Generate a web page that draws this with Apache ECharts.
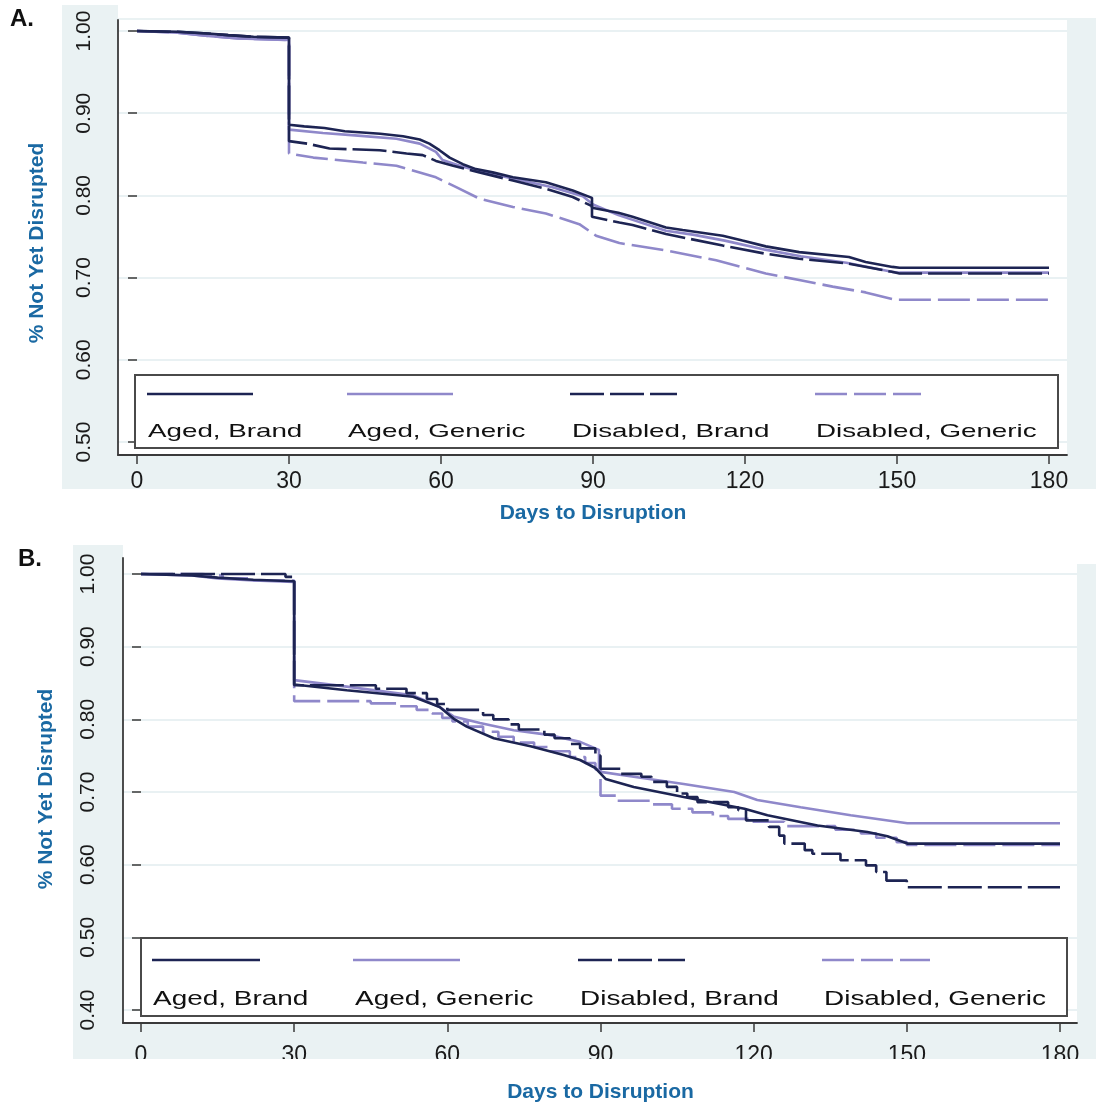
<!DOCTYPE html>
<html><head><meta charset="utf-8">
<script src="https://cdn.jsdelivr.net/npm/echarts@6/dist/echarts.min.js"></script>
<style>html,body{margin:0;padding:0;background:#fff}#c{width:1096px;height:1107px}</style>
</head><body><div id="c"></div>
<script>
// ---------- data ----------
const seriesNames = ['Aged, Brand', 'Aged, Generic', 'Disabled, Brand', 'Disabled, Generic'];
const xTickValues = [0, 30, 60, 90, 120, 150, 180];
const xAxisTitle = 'Days to Disruption';
const yAxisTitle = '% Not Yet Disrupted';
const panelTags = ['A.', 'B.'];

// Panel A  [day, survival]
const A_agedBrand = [[0,1.000],[8,0.999],[14,0.997],[18,0.995],[23,0.993],[30,0.992],[30,0.886],
  [33,0.884],[37,0.882],[41,0.878],[48,0.875],[52.5,0.872],[55.8,0.868],[57.7,0.863],[59.7,0.855],[61.7,0.846],
  [64.3,0.838],[66.9,0.832],[70.2,0.828],[74.2,0.822],[80.7,0.816],[86,0.806],[89.8,0.797],[89.8,0.785],
  [95,0.779],[97.8,0.774],[104.4,0.761],[107.7,0.758],[115.6,0.751],[119.5,0.745],[124.1,0.738],[130.7,0.731],
  [140.5,0.725],[143.8,0.719],[149.1,0.713],[150.5,0.712],[180,0.712]];
const A_agedGeneric = [[0,1.000],[8,0.998],[14,0.994],[20,0.991],[30,0.989],[30,0.880],
  [36.7,0.876],[43,0.873],[51.2,0.869],[55.8,0.863],[59,0.853],[60.3,0.843],[64.3,0.835],[70,0.826],[76,0.818],
  [82,0.810],[88,0.799],[90,0.789],[95,0.776],[104.4,0.757],[110,0.752],[116,0.745],[124,0.734],[131,0.726],
  [140,0.718],[149,0.707],[150.5,0.706],[180,0.706]];
const A_disabledBrand = [[0,1.000],[8,0.999],[14,0.997],[18,0.995],[23,0.993],[30,0.992],[30,0.866],
  [33.6,0.863],[38,0.857],[47.9,0.855],[53.2,0.851],[56.4,0.849],[59,0.842],[62.4,0.836],[67.6,0.828],[74.2,0.818],
  [80.7,0.808],[86,0.798],[89.8,0.787],[89.8,0.774],[95.2,0.767],[97.8,0.764],[104.4,0.753],[115.6,0.739],
  [124.1,0.729],[130.7,0.723],[140.5,0.717],[149,0.707],[150.5,0.705],[180,0.705]];
const A_disabledGeneric = [[0,1.000],[8,0.998],[14,0.994],[20,0.991],[30,0.989],[30,0.851],
  [34.8,0.846],[44.6,0.840],[51.2,0.836],[55.8,0.828],[59,0.822],[63,0.810],[67.6,0.796],[74.2,0.786],[80.7,0.778],
  [87.3,0.765],[90.6,0.751],[95.2,0.742],[104.4,0.733],[114.3,0.721],[124.1,0.705],[130.7,0.697],[137.3,0.689],
  [143.8,0.682],[149.7,0.673],[180,0.673]];

// Panel B
const B_agedBrand = [[0,1.000],[10,0.998],[15,0.995],[22,0.992],[30,0.990],[30,0.848],
  [40.3,0.840],[53.3,0.831],[58.5,0.817],[61.2,0.801],[63.8,0.790],[69.1,0.774],[76.3,0.763],[82.8,0.751],
  [86,0.744],[89,0.733],[91,0.718],[96.5,0.707],[106.3,0.693],[118.2,0.677],[122.7,0.668],[132.5,0.654],
  [142.3,0.645],[146.2,0.639],[150.1,0.629],[180,0.629]];
const B_agedGeneric = [[0,1.000],[10,0.998],[15,0.994],[22,0.991],[30,0.989],[30,0.854],
  [40.3,0.845],[53.3,0.833],[58.5,0.817],[61.2,0.804],[66.4,0.795],[73,0.785],[79.5,0.779],[86,0.769],
  [89.7,0.758],[89.7,0.728],[96.5,0.721],[106.3,0.711],[116.2,0.700],[120.7,0.689],[129.2,0.679],[139,0.668],
  [150.1,0.657],[180,0.657]];
// step-style series: [day of drop, new value]
const B_disabledBrand = [[0,1.000],[28.3,0.996],[30,0.847],[46,0.842],[52,0.836],[56,0.828],[58,0.821],[60,0.813],
  [67,0.806],[69,0.800],[72,0.793],[74,0.786],[79,0.779],[81,0.774],[84,0.766],[86,0.760],[89,0.750],[90,0.732],
  [94,0.725],[98,0.721],[100,0.714],[103,0.707],[105,0.698],[107,0.693],[109,0.686],[115,0.679],[117,0.675],
  [118.5,0.661],[123,0.652],[125,0.640],[126,0.629],[130,0.620],[131.5,0.615],[137,0.606],[142,0.599],[144,0.590],
  [146,0.578],[150,0.569],[180,0.569]];
const B_disabledGeneric = [[0,1.000],[12,0.998],[16,0.994],[22,0.991],[30,0.825],[45,0.822],[50,0.818],[54,0.813],
  [57,0.808],[59,0.802],[61,0.797],[64,0.790],[67,0.783],[70,0.776],[73,0.768],[77,0.762],[80,0.756],[84,0.748],
  [87,0.740],[89,0.731],[90,0.695],[93,0.688],[100,0.683],[104,0.677],[108,0.672],[112,0.667],[115,0.663],
  [119,0.659],[126,0.653],[136,0.648],[141,0.643],[144,0.637],[148,0.631],[150,0.627],[180,0.627]];

// ---------- style / layout ----------
const DARK = '#1d2453', LAV = '#8f88ca', AXIS = '#3a3a3a', BG = '#eaf2f3', GRIDC = '#e2ecef', TITLE = '#1a69a3';
const FONT = '"Liberation Sans", Arial, sans-serif';
const styles = [
  {color: DARK, type: 'solid'}, {color: LAV, type: 'solid'},
  {color: DARK, type: [34, 6]}, {color: LAV, type: [32, 7]}
];
const drawOrder = [1, 3, 0, 2];

const panels = [
  { tag: panelTags[0], tagPos: [10, 7],
    plot: {l: 118, r: 1067, t: 20, b: 455}, x0: 137, x180: 1049, yTopPx: 31, yBotPx: 442, yMin: 0.5, yMax: 1.0,
    xLabelMargin: 15, yLabelMargin: 23, xNameGap: 48, yNameGap: 70, yNamePad: [0, 13, 0, 0],
    data: [A_agedBrand, A_agedGeneric, A_disabledBrand, A_disabledGeneric], steps: [false, false, false, false],
    legend: {box: [135, 375, 1058, 448], sampleY: 394, samples: [[147,253],[347,453],[570,677],[815,921]],
             labelX: [148, 348, 572, 816], labelY: 431.5, fontSize: 18.5, scaleX: 1.5},
    bgRect: [62, 5, 1034, 484], topWhite: [118, 0, 978, 18], cut: [0, 489, 1096, 12] },
  { tag: panelTags[1], tagPos: [18, 547],
    plot: {l: 123, r: 1077, t: 558, b: 1023}, x0: 141, x180: 1060, yTopPx: 574, yBotPx: 1010, yMin: 0.4, yMax: 1.0,
    xLabelMargin: 21, yLabelMargin: 24, xNameGap: 59, yNameGap: 66, yNamePad: [0, 0, 0, 6],
    data: [B_agedBrand, B_agedGeneric, B_disabledBrand, B_disabledGeneric], steps: [false, false, 'end', 'end'],
    legend: {box: [141, 938, 1067, 1016], sampleY: 960, samples: [[152,260],[353,460],[578,685],[822,930]],
             labelX: [153, 355, 580, 824], labelY: 999, fontSize: 21, scaleX: 1.33},
    bgRect: [73, 545, 1023, 514], topWhite: [123, 540, 973, 24], cut: [0, 1059, 1096, 22] }
];

const grid = [], xAxis = [], yAxis = [], series = [], graphic = [];
panels.forEach((p, pi) => {
  const fi = pi * 2, di = pi * 2 + 1;
  const pxPerUnit = (p.yBotPx - p.yTopPx) / (p.yMax - p.yMin);
  const fMin = p.yMin - (p.plot.b - p.yBotPx) / pxPerUnit;
  const fMax = p.yMax + (p.yTopPx - p.plot.t) / pxPerUnit;
  // frame grid (axis lines + gridlines)
  grid.push({left: p.plot.l, top: p.plot.t, width: p.plot.r - p.plot.l, height: p.plot.b - p.plot.t,
    show: true, backgroundColor: '#fff', borderWidth: 0, containLabel: false, outerBoundsMode: 'none'});
  // data grid
  grid.push({left: p.x0, top: p.yTopPx, width: p.x180 - p.x0, height: p.yBotPx - p.yTopPx,
    containLabel: false, outerBoundsMode: 'none'});
  xAxis.push({gridIndex: fi, type: 'value', min: 0, max: 1,
    axisLine: {show: true, onZero: false, lineStyle: {color: AXIS, width: 1.8}},
    axisTick: {show: false}, axisLabel: {show: false}, splitLine: {show: false}});
  yAxis.push({gridIndex: fi, type: 'value', min: fMin, max: fMax, splitNumber: 5, minInterval: 0.1, maxInterval: 0.1,
    axisLine: {show: true, onZero: false, lineStyle: {color: AXIS, width: 1.8}},
    axisTick: {show: false}, axisLabel: {show: false},
    splitLine: {show: true, showMinLine: false, showMaxLine: false, lineStyle: {color: GRIDC, width: 1.5}}});
  xAxis.push({gridIndex: di, type: 'value', min: xTickValues[0], max: xTickValues[xTickValues.length - 1],
    interval: xTickValues[1] - xTickValues[0], offset: p.plot.b - p.yBotPx,
    axisLine: {show: false}, axisTick: {show: true, length: 9, lineStyle: {color: AXIS, width: 1.5}},
    axisLabel: {show: true, margin: p.xLabelMargin, fontSize: 23, fontFamily: FONT, color: '#1a1a1a'},
    splitLine: {show: false},
    name: xAxisTitle, nameLocation: 'middle', nameGap: p.xNameGap,
    nameTextStyle: {fontSize: 21, fontWeight: 'bold', fontFamily: FONT, color: TITLE}});
  yAxis.push({gridIndex: di, type: 'value', min: p.yMin, max: p.yMax, interval: 0.1, offset: p.x0 - p.plot.l,
    axisLine: {show: false}, axisTick: {show: true, length: 9, lineStyle: {color: AXIS, width: 1.5}},
    axisLabel: {show: true, rotate: 90, margin: p.yLabelMargin, fontSize: 21, fontFamily: FONT, color: '#1a1a1a',
      formatter: v => v.toFixed(2)},
    splitLine: {show: false},
    name: yAxisTitle, nameLocation: 'middle', nameGap: p.yNameGap, nameRotate: 90,
    nameTextStyle: {fontSize: 21, fontWeight: 'bold', fontFamily: FONT, color: TITLE, padding: p.yNamePad}});
  drawOrder.forEach(si => {
    series.push({type: 'line', name: seriesNames[si], data: p.data[si], xAxisIndex: di, yAxisIndex: di,
      step: p.steps[si] || false, symbol: 'none', clip: false, silent: true,
      lineStyle: {color: styles[si].color, type: styles[si].type, width: 2.6}});
  });
  // background pieces
  graphic.push({type: 'rect', z: -10, silent: true,
    shape: {x: p.bgRect[0], y: p.bgRect[1], width: p.bgRect[2], height: p.bgRect[3]}, style: {fill: BG}});
  graphic.push({type: 'rect', z: -9, silent: true,
    shape: {x: p.topWhite[0], y: p.topWhite[1], width: p.topWhite[2], height: p.topWhite[3]}, style: {fill: '#fff'}});
  graphic.push({type: 'rect', z: 50, silent: true,
    shape: {x: p.cut[0], y: p.cut[1], width: p.cut[2], height: p.cut[3]}, style: {fill: '#fff'}});
  // panel tag
  graphic.push({type: 'text', z: 20, x: p.tagPos[0], y: p.tagPos[1],
    style: {text: p.tag, font: 'bold 24px ' + FONT, fill: '#111', align: 'left', verticalAlign: 'top',
      textAlign: 'left', textVerticalAlign: 'top'}});
  // legend
  const L = p.legend;
  graphic.push({type: 'rect', z: 20, silent: true,
    shape: {x: L.box[0], y: L.box[1], width: L.box[2] - L.box[0], height: L.box[3] - L.box[1]},
    style: {fill: '#fff', stroke: '#4a4a4a', lineWidth: 2}});
  seriesNames.forEach((nm, si) => {
    const st = styles[si];
    graphic.push({type: 'line', z: 21, silent: true,
      shape: {x1: L.samples[si][0], y1: L.sampleY, x2: L.samples[si][1], y2: L.sampleY},
      style: {stroke: st.color, lineWidth: 2.6, lineDash: Array.isArray(st.type) ? st.type : null}});
    graphic.push({type: 'text', z: 21, silent: true, x: L.labelX[si], y: L.labelY, scaleX: L.scaleX,
      style: {text: nm, font: L.fontSize + 'px ' + FONT, fill: '#111', align: 'left', verticalAlign: 'middle',
        textAlign: 'left', textVerticalAlign: 'middle'}});
  });
});

const chart = echarts.init(document.getElementById('c'), null, {renderer: 'canvas', width: 1096, height: 1107});
chart.setOption({animation: false, backgroundColor: '#fff', grid, xAxis, yAxis, series, graphic});
</script></body></html>
